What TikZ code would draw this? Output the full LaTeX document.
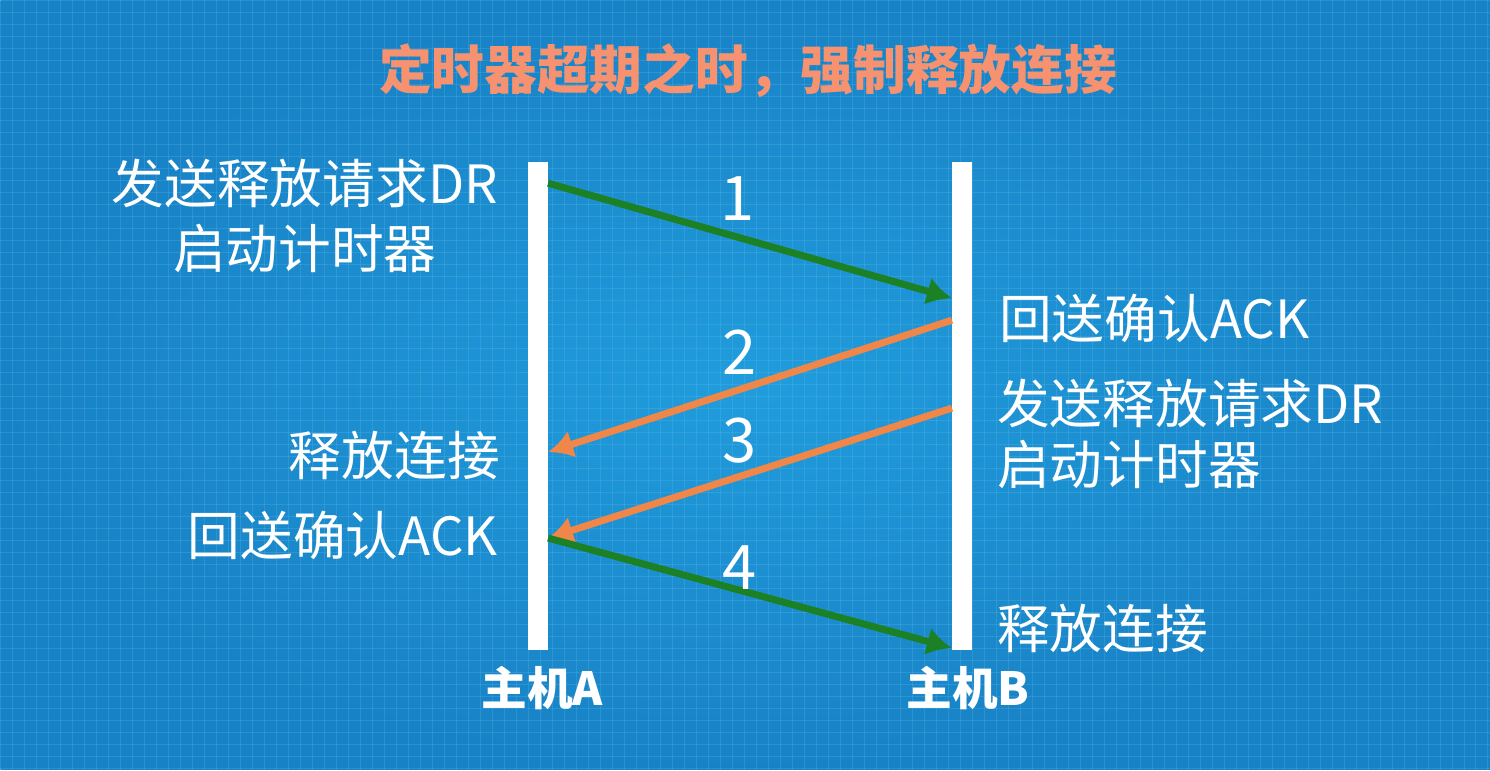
\documentclass[tikz,border=0pt]{standalone}
\usepackage{fontspec}
\setmainfont{Noto Sans CJK SC}
\usepackage{xcolor}
\usepackage{tikz}
\usetikzlibrary{arrows.meta, positioning}
\definecolor{SkyBg}{RGB}{32, 156, 220}
\definecolor{SkyDark}{RGB}{24, 130, 198}
\definecolor{SkyGrid}{RGB}{110, 196, 242}
\definecolor{AckGreen}{RGB}{28, 128, 36}
\definecolor{DrOrange}{RGB}{240, 135, 72}
\definecolor{TitleSalmon}{RGB}{246, 146, 112}

\begin{document}
\begin{tikzpicture}[
  x=0.02cm, y=-0.02cm,
  lbl/.style={inner sep=0pt, text=white, font=\fontsize{30}{37}\selectfont},
  num/.style={inner sep=0pt, text=white, font=\fontsize{35}{38}\selectfont},
  host/.style={inner sep=0pt, text=white, font=\bfseries\fontsize{26}{30}\selectfont},
  life/.style={white, line width=0.4cm},
  grn/.style={-{Latex[length=0.5cm, width=0.56cm]}, AckGreen, line width=0.14cm},
  org/.style={-{Latex[length=0.5cm, width=0.56cm]}, DrOrange, line width=0.14cm}
]
% background and grid
\shade[inner color=SkyBg, outer color=SkyDark] (0,0) rectangle (1490,770);
\foreach \x in {0,12,...,1490}
  \draw[SkyGrid, opacity=0.22, line width=0.3pt] (\x,0) -- (\x,770);
\foreach \y in {0,12,...,770}
  \draw[SkyGrid, opacity=0.22, line width=0.3pt] (0,\y) -- (1490,\y);

\node[inner sep=0pt, text=TitleSalmon, font=\bfseries\fontsize{30}{34}\selectfont] (title) at (748,70) {定时器超期之时，强制释放连接};

% lifelines
\coordinate (aTop) at (538,162);
\coordinate (aBot) at (538,650);
\coordinate (bTop) at (962,162);
\coordinate (bBot) at (962,650);
\draw[life] (aTop) -- (aBot);
\draw[life] (bTop) -- (bBot);
\node[host] (hostA) at (542,688) {主机A};
\node[host] (hostB) at (968,688) {主机B};

% events on host A
\node[lbl, align=center, anchor=east] (aSend) at (498,216) {发送释放请求DR\\启动计时器};
\node[lbl, anchor=east] (aRel) at (500,455) {释放连接};
\node[lbl, anchor=east] (aAck) at (498,535) {回送确认ACK};

% events on host B
\node[lbl, anchor=west] (bAck) at (999,318) {回送确认ACK};
\node[lbl, align=left, anchor=west, font=\fontsize{30}{35}\selectfont] (bSend) at (997,434) {发送释放请求DR\\启动计时器};
\node[lbl, anchor=west] (bRel) at (997,628) {释放连接};

% segments
\coordinate (a1) at (548,183);
\coordinate (b1) at (952,298);
\coordinate (b2) at (952,320);
\coordinate (a2) at (548,452);
\coordinate (b3) at (952,408);
\coordinate (a3) at (548,538);
\coordinate (b4) at (952,648);
\draw[grn] (a1) -- (b1);
\draw[org] (b2) -- (a2);
\draw[org] (b3) -- (a3);
\draw[grn] (a3) -- (b4);

\node[num] (n1) at (738,198) {1};
\node[num] (n2) at (740,352) {2};
\node[num] (n3) at (740,440) {3};
\node[num] (n4) at (740,568) {4};
\end{tikzpicture}
\end{document}
